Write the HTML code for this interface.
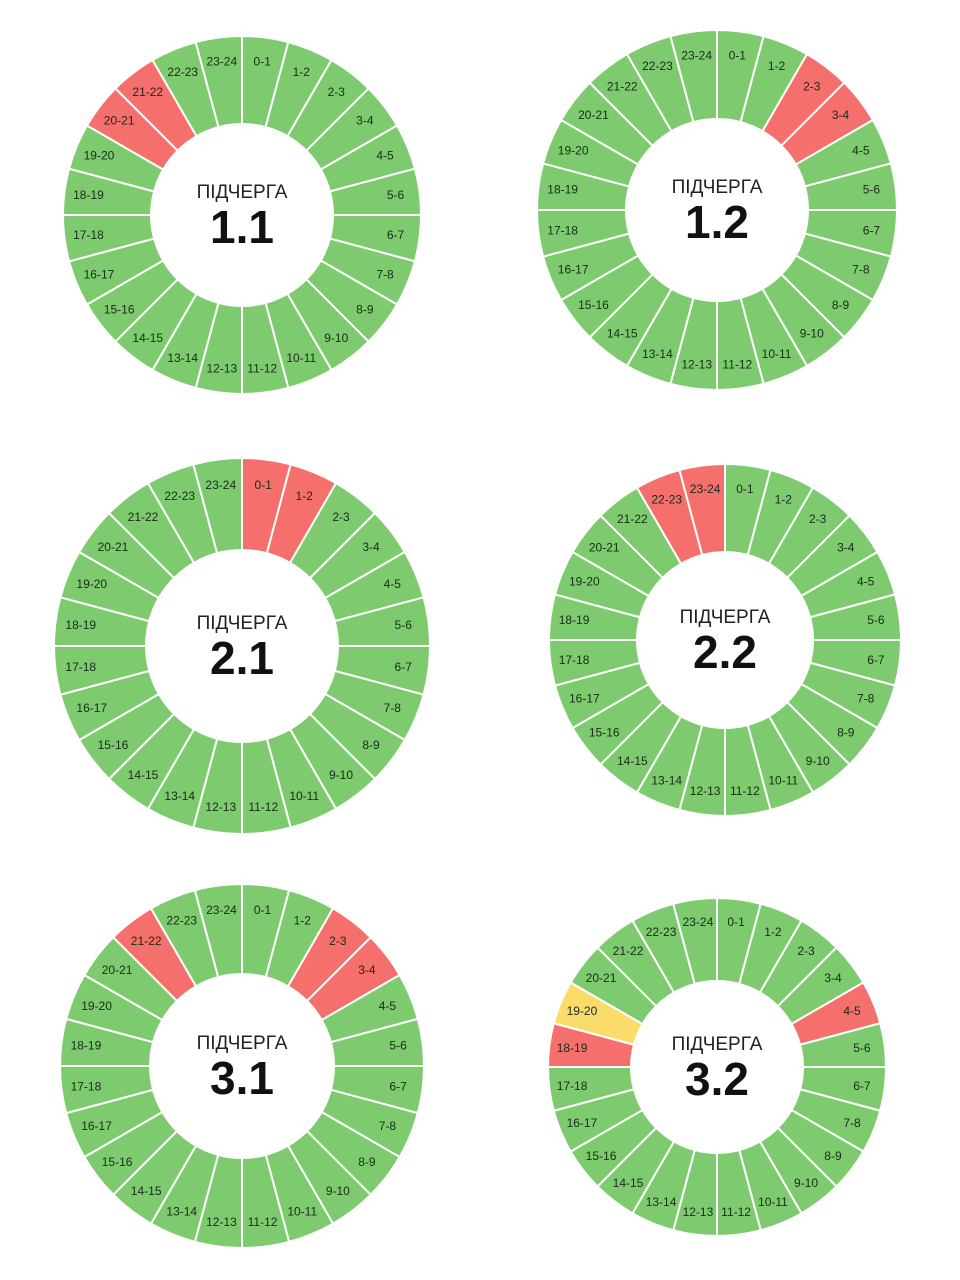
<!DOCTYPE html>
<html><head><meta charset="utf-8"><style>
body{margin:0;background:#fff;width:960px;height:1280px;overflow:hidden}
svg{display:block}
</style></head><body>
<svg id="c" width="960" height="1280" viewBox="0 0 960 1280"></svg>
<script>
const hourLabels = ["0-1","1-2","2-3","3-4","4-5","5-6","6-7","7-8","8-9","9-10","10-11","11-12","12-13","13-14","14-15","15-16","16-17","17-18","18-19","19-20","20-21","21-22","22-23","23-24"];
const queueNames = ["1.1","1.2","2.1","2.2","3.1","3.2"];
const redHours = [[20,21],[2,3],[0,1],[22,23],[2,3,21],[4,18]];
const yellowHours = [[],[],[],[],[],[19]];
const centersX = [242,717,242,725,242,717];
const centersY = [215,210,646,640,1066,1067];
const outerR = [179,180,188,176,182,169];
const innerR = [91,91,96,88,92,86];
const colors = {green:"#7dcb6e", red:"#f56f6d", yellow:"#fadc6a"};
const NS="http://www.w3.org/2000/svg";
const svg=document.getElementById('c');
function pt(cx,cy,r,a){return [cx+r*Math.sin(a), cy-r*Math.cos(a)];}
queueNames.forEach((q,i)=>{
  const g=document.createElementNS(NS,'g');
  
  
  svg.appendChild(g);
  const cx=centersX[i],cy=centersY[i],R=outerR[i],r=innerR[i];
  hourLabels.forEach((lab,h)=>{
    const a0=h*Math.PI/12,a1=(h+1)*Math.PI/12;
    const p1=pt(cx,cy,R,a0),p2=pt(cx,cy,R,a1),p3=pt(cx,cy,r,a1),p4=pt(cx,cy,r,a0);
    let col=colors.green;
    if(redHours[i].includes(h))col=colors.red;
    if(yellowHours[i].includes(h))col=colors.yellow;
    const p=document.createElementNS(NS,'path');
    p.setAttribute('d',`M${p1[0]},${p1[1]}A${R},${R} 0 0 1 ${p2[0]},${p2[1]}L${p3[0]},${p3[1]}A${r},${r} 0 0 0 ${p4[0]},${p4[1]}Z`);
    p.setAttribute('fill',col);p.setAttribute('stroke','#fff');p.setAttribute('stroke-width','2');
    
    
    g.appendChild(p);
    const lp=pt(cx,cy,R*0.865,(a0+a1)/2);
    const t=document.createElementNS(NS,'text');
    t.setAttribute('x',lp[0]);t.setAttribute('y',lp[1]+4);
    t.setAttribute('text-anchor','middle');t.setAttribute('font-size','12');
    t.setAttribute('font-family','"Liberation Sans",sans-serif');t.setAttribute('fill','#1a2a1a');
    t.textContent=lab;
    
    
    g.appendChild(t);
  });
  const t1=document.createElementNS(NS,'text');
  t1.setAttribute('x',cx);t1.setAttribute('y',cy-17);t1.setAttribute('text-anchor','middle');
  t1.setAttribute('font-size','19');t1.setAttribute('font-family','"Liberation Sans",sans-serif');t1.setAttribute('fill','#222');
  t1.textContent='ПІДЧЕРГА';
  
  
  g.appendChild(t1);
  const t2=document.createElementNS(NS,'text');
  t2.setAttribute('x',cx);t2.setAttribute('y',cy+28);t2.setAttribute('text-anchor','middle');
  t2.setAttribute('font-size','46');t2.setAttribute('font-weight','bold');t2.setAttribute('font-family','"Liberation Sans",sans-serif');t2.setAttribute('fill','#111');
  t2.textContent=q;
  
  
  g.appendChild(t2);
});
</script>
</body></html>
